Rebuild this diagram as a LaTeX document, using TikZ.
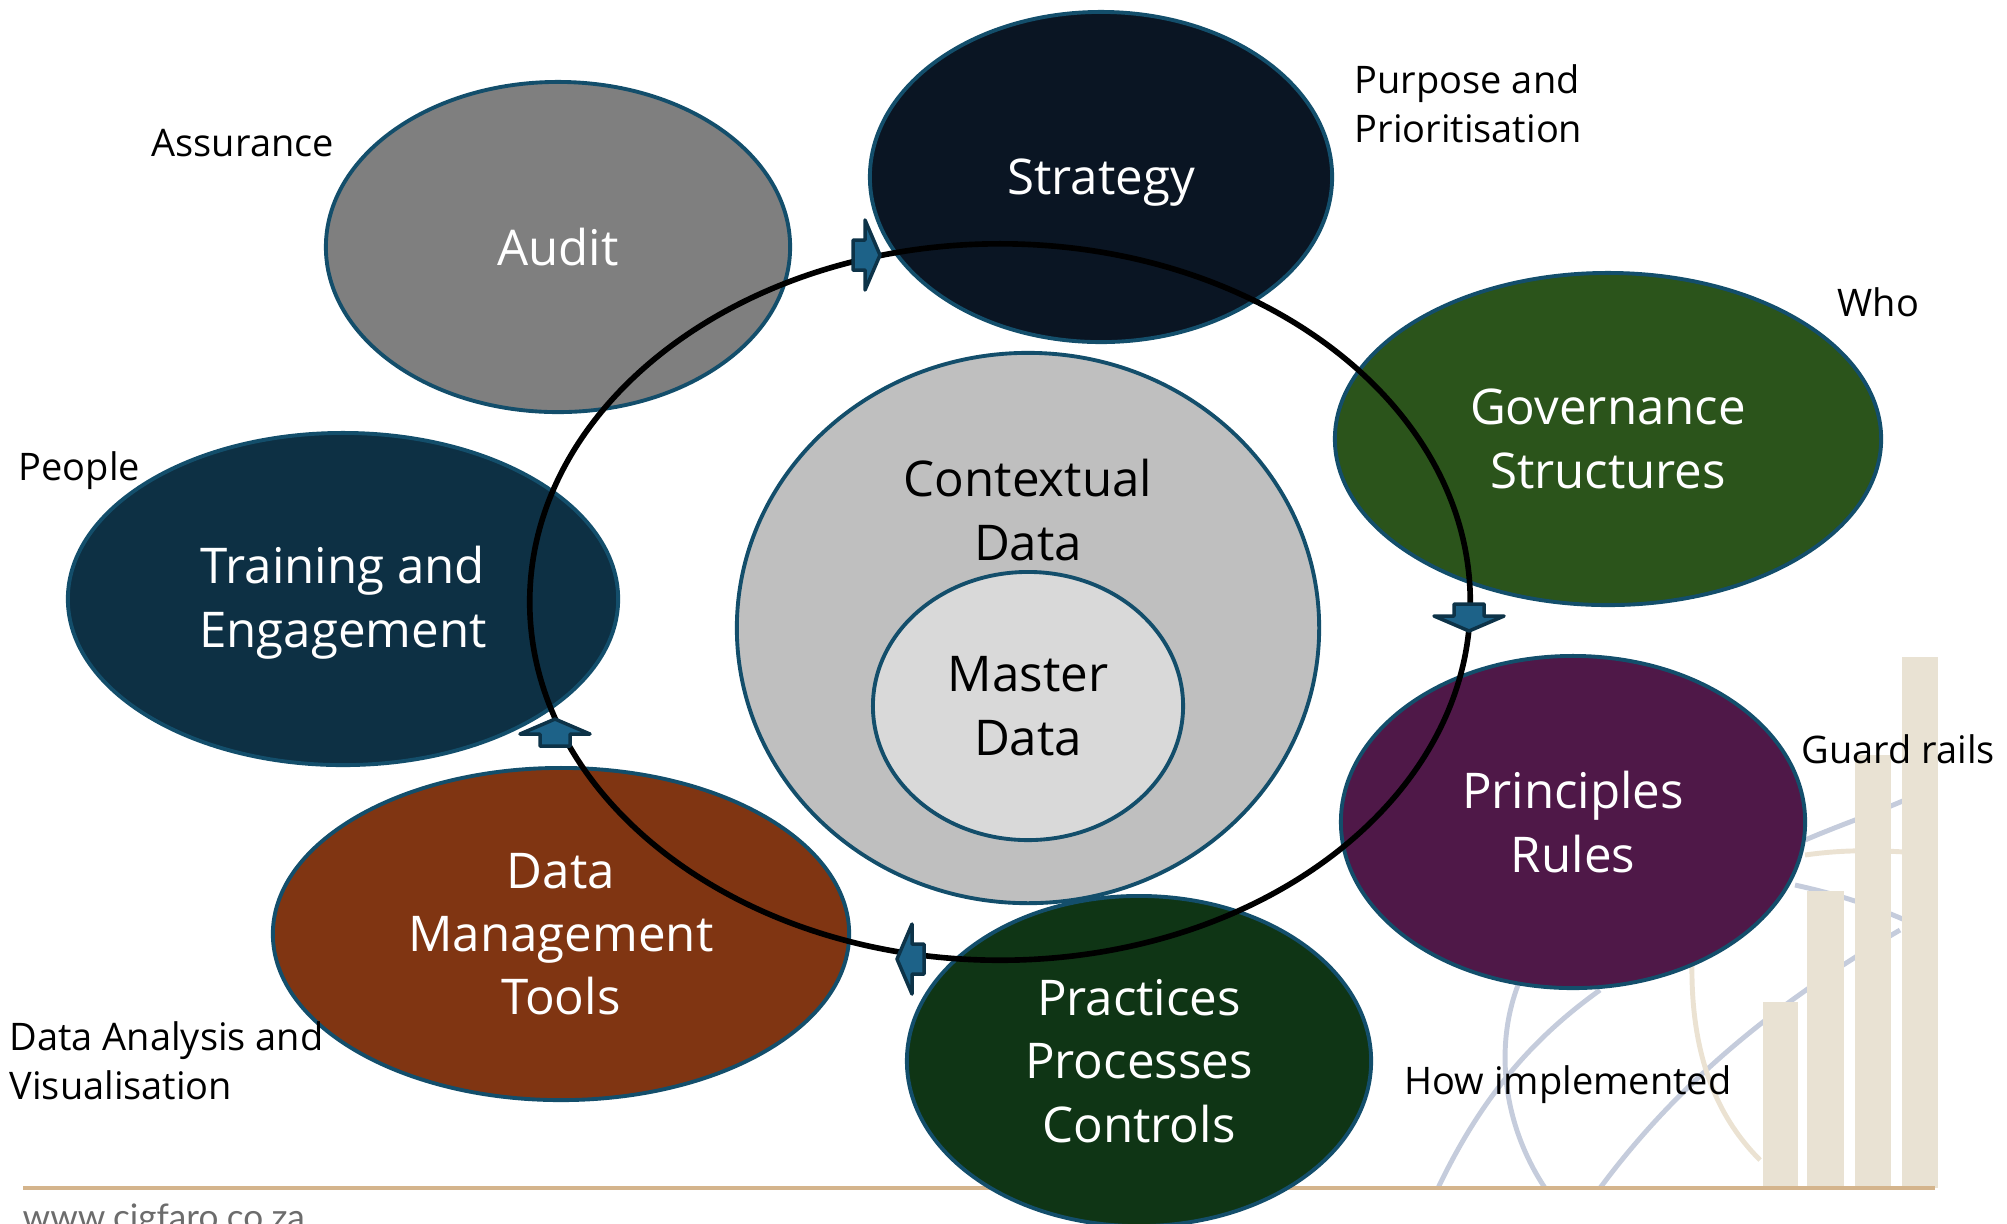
\documentclass[tikz,border=0pt]{standalone}
\usepackage{fontspec}
\setmainfont{Open Sans}
\newfontfamily\urlfont{Lato}
\usetikzlibrary{shapes.geometric}

\definecolor{rim}{HTML}{134E6B}
\definecolor{auditcol}{HTML}{7F7F7F}
\definecolor{stratcol}{HTML}{0A1523}
\definecolor{govcol}{HTML}{2B541B}
\definecolor{traincol}{HTML}{0D3044}
\definecolor{princol}{HTML}{4F1848}
\definecolor{toolcol}{HTML}{803512}
\definecolor{praccol}{HTML}{0F3515}
\definecolor{ctxcol}{HTML}{BFBFBF}
\definecolor{mastercol}{HTML}{D9D9D9}
\definecolor{markfill}{HTML}{1D6288}
\definecolor{markrim}{HTML}{0D3348}
\definecolor{tan}{HTML}{D4B48C}
\definecolor{barcol}{HTML}{E9E2D3}
\definecolor{swirlblue}{HTML}{C5CCDC}
\definecolor{swirltan}{HTML}{EBE2D2}

\tikzset{
  bubble/.style={ellipse, draw=rim, line width=1.1pt, text=white, align=center,
    inner sep=0pt, font=\fontsize{14}{18}\selectfont},
  note/.style={anchor=west, align=left, inner sep=0pt, font=\fontsize{10.8}{14}\selectfont},
  marker/.style={fill=markfill, draw=markrim, line width=1pt, line join=round},
  swirl/.style={line width=1.4pt},
}

\begin{document}
\begin{tikzpicture}[x={(0.01cm,0)}, y={(0,-0.01cm)}]
\useasboundingbox (0,0) rectangle (2007,1223);
\edef\cx{1000}
\edef\cy{602}

% slide background
\draw [swirl, swirlblue](1438,1188) .. controls (1480,1100) and (1530,1040) .. (1600,990);
\draw [swirl, swirlblue](1545,1188) .. controls (1500,1120) and (1495,1040) .. (1520,980);
\draw [swirl, swirlblue](1600,1188) .. controls (1680,1080) and (1780,1000) .. (1900,930);
\draw [swirl, swirltan](1692,960) .. controls (1690,1060) and (1720,1120) .. (1760,1160);
\draw [swirl, swirlblue](1805,840) .. controls (1840,825) and (1870,815) .. (1905,800);
\draw [swirl, swirlblue](1795,885) .. controls (1840,895) and (1870,905) .. (1905,920);
\draw [swirl, swirltan](1805,855) .. controls (1840,850) and (1870,850) .. (1905,852);

\fill [barcol](1763,1002) rectangle (1798,1188);
\fill [barcol](1807,891) rectangle (1844,1188);
\fill [barcol](1855,755) rectangle (1891,1188);
\fill [barcol](1902,657) rectangle (1938,1188);
\draw [tan, line width=1pt](23,1188) -- (1935,1188);
\node [anchor=base west, inner sep=0pt, text=gray!85!black, font=\urlfont\fontsize{10}{12}\selectfont] (url) at (22,1229) {www.cigfaro.co.za};

% elements
\node [bubble, fill=auditcol, minimum width=4.64cm, minimum height=3.30cm] (audit) at (558,247) {Audit};
\node [bubble, fill=stratcol, text depth=0pt, minimum width=4.62cm, minimum height=3.30cm] (strategy) at (1101,177) {Strategy};
\node [bubble, fill=govcol, minimum width=5.46cm, minimum height=3.32cm] (governance) at (1608,439) {Governance\\Structures};
\node [bubble, fill=traincol, text depth=1.2pt, minimum width=5.50cm, minimum height=3.32cm] (training) at (343,599) {Training and\\Engagement};
\node [bubble, fill=princol, minimum width=4.64cm, minimum height=3.32cm] (principles) at (1573,822) {Principles\\Rules};
\node [bubble, fill=toolcol, minimum width=5.76cm, minimum height=3.32cm] (tools) at (561,934) {Data\\Management\\Tools};
\node [bubble, fill=praccol, minimum width=4.64cm, minimum height=3.30cm] (practices) at (1139,1061) {Practices\\Processes\\Controls};

\node [bubble, fill=ctxcol, minimum width=5.82cm, minimum height=5.50cm] (context) at (1028,628) {};
\node [align=center, font=\fontsize{14}{18}\selectfont] (ctxtext) at (1028,510) {Contextual\\Data};
\node [bubble, fill=mastercol, text=black, minimum width=3.10cm, minimum height=2.68cm] (master) at (1028,706) {Master\\Data};

% cycle
\draw [line width=1.6pt](\cx,\cy) ellipse [x radius=4.70cm, y radius=3.58cm];
\draw [marker, shift={(880,255)}] (0,0) -- (-15,35) -- (-15,15) -- (-27,15) -- (-27,-15) -- (-15,-15) -- (-15,-35) -- cycle;
\draw [marker, shift={(1469,631)}, rotate=-90] (0,0) -- (-15,35) -- (-15,15) -- (-27,15) -- (-27,-15) -- (-15,-15) -- (-15,-35) -- cycle;
\draw [marker, shift={(897,959)}, rotate=180] (0,0) -- (-15,35) -- (-15,15) -- (-27,15) -- (-27,-15) -- (-15,-15) -- (-15,-35) -- cycle;
\draw [marker, shift={(555,719)}, rotate=90] (0,0) -- (-15,35) -- (-15,15) -- (-27,15) -- (-27,-15) -- (-15,-15) -- (-15,-35) -- cycle;

% side notes
\node [note] (assurance) at (151,143) {Assurance};
\node [note] (purpose) at (1354,104) {Purpose and\\Prioritisation};
\node [note] (who) at (1837,302) {Who};
\node [note] (people) at (18,471) {People};
\node [note] (guard) at (1801,749) {Guard rails};
\node [note] (how) at (1404,1085) {How implemented};
\node [note] (analysis) at (9,1061) {Data Analysis and\\Visualisation};
\end{tikzpicture}
\end{document}
